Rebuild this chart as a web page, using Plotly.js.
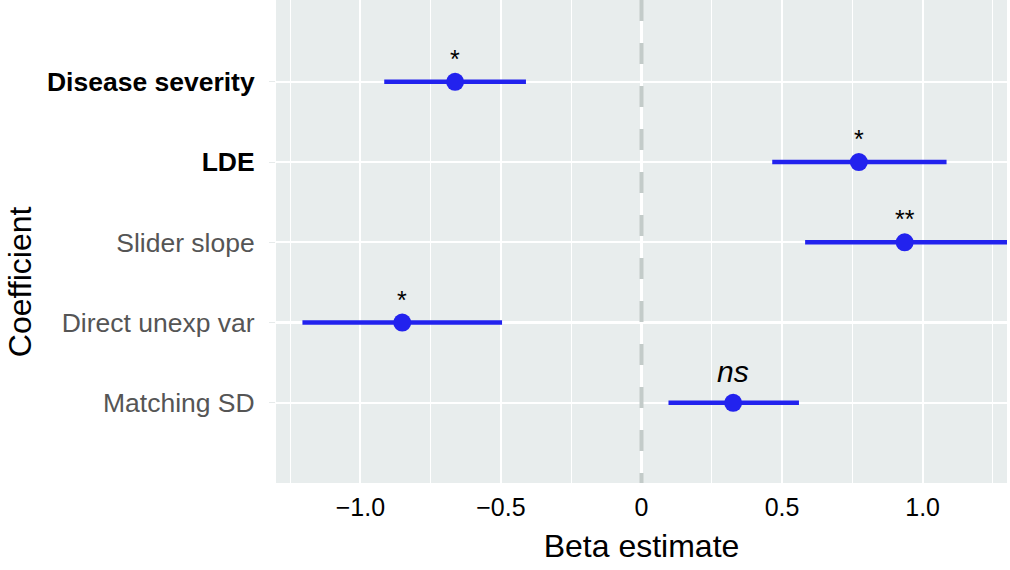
<!DOCTYPE html>
<html>
<head>
<meta charset="utf-8">
<script src="https://cdn.plot.ly/plotly-3.0.1.min.js"></script>
<style>html,body{margin:0;padding:0;background:#fff}#chart{width:1010px;height:570px}</style>
</head>
<body>
<div id="chart"></div>
<script>
// Data
const coefficients = ["Disease severity", "LDE", "Slider slope", "Direct unexp var", "Matching SD"];
const boldCoefficients = ["Disease severity", "LDE"];
const estimates = [-0.663, 0.773, 0.936, -0.851, 0.326];
const lowerCI = [-0.915, 0.465, 0.582, -1.206, 0.096];
const upperCI = [-0.411, 1.085, 1.32, -0.496, 0.560];
const significance = ["*", "*", "**", "*", "ns"];
const xTickVals = [-1, -0.5, 0, 0.5, 1];
const xTickText = ["\u22121.0", "\u22120.5", "0", "0.5", "1.0"];
const referenceX = 0;

const FONT = "Liberation Sans, Arial, Helvetica, sans-serif";
const BLUE = "#2222ee";

// categories placed top-to-bottom
const n = coefficients.length;
const yPos = coefficients.map((c, i) => n - i);

const trace = {
  type: "scatter",
  mode: "markers",
  x: estimates,
  y: yPos,
  marker: {size: 18, color: BLUE},
  error_x: {
    type: "data",
    symmetric: false,
    array: upperCI.map((u, i) => u - estimates[i]),
    arrayminus: lowerCI.map((l, i) => estimates[i] - l),
    thickness: 4.5,
    width: 0,
    color: BLUE
  },
  hoverinfo: "skip",
  showlegend: false,
  cliponaxis: true
};

const annotations = significance.map((s, i) => {
  const isNs = s === "ns";
  return {
    x: estimates[i],
    y: yPos[i],
    xref: "x", yref: "y",
    text: isNs ? "<i>" + s + "</i>" : s,
    showarrow: false,
    xanchor: "center",
    yanchor: "middle",
    yshift: isNs ? 31 : 23,
    font: {family: FONT, size: isNs ? 30 : 25, color: "#000"}
  };
});

// y-axis title
annotations.push({
  xref: "paper", yref: "paper",
  x: -0.35, y: 0.416,
  xanchor: "center", yanchor: "middle",
  text: "Coefficient",
  textangle: -90,
  showarrow: false,
  font: {family: FONT, size: 32, color: "#000"}
});

const tickText = coefficients.map(c =>
  boldCoefficients.includes(c)
    ? "<span style='color:#000'><b>" + c + "</b></span>"
    : c
);

const layout = {
  width: 1010,
  height: 570,
  margin: {l: 276, r: 3, t: 0, b: 87, pad: 0},
  paper_bgcolor: "#ffffff",
  plot_bgcolor: "#e8eded",
  font: {family: FONT},
  xaxis: {
    range: [-1.3, 1.3],
    tickvals: xTickVals,
    ticktext: xTickText,
    tickfont: {family: FONT, size: 25, color: "#000"},
    showgrid: true,
    gridcolor: "#ffffff",
    gridwidth: 2.2,
    minor: {dtick: 0.25, tick0: 0, showgrid: true, gridcolor: "#ffffff", gridwidth: 1},
    zeroline: false,
    showline: false,
    ticks: "",
    ticklabelstandoff: 7,
    title: {text: "Beta estimate", font: {family: FONT, size: 32, color: "#000"}, standoff: 14},
    fixedrange: true
  },
  yaxis: {
    range: [0, 6.02],
    tickvals: yPos,
    ticktext: tickText,
    tickfont: {family: FONT, size: 26.5, color: "#555555"},
    showgrid: true,
    gridcolor: "#ffffff",
    gridwidth: 2.2,
    zeroline: false,
    showline: false,
    ticks: "outside",
    ticklen: 6,
    tickcolor: "#e6eaea",
    ticklabelstandoff: 9,
    fixedrange: true
  },
  shapes: [{
    type: "line",
    xref: "x", yref: "paper",
    x0: referenceX, x1: referenceX, y0: 1, y1: 0,
    line: {color: "#c3cbc9", width: 4, dash: "21px,22px"},
    layer: "above"
  }],
  annotations: annotations
};

Plotly.newPlot("chart", [trace], layout, {displayModeBar: false, staticPlot: true});
</script>
</body>
</html>
